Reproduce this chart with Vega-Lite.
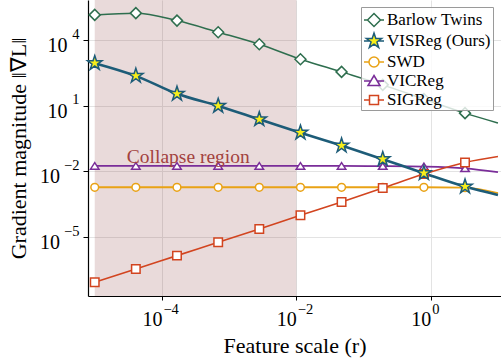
{
  "$schema": "https://vega.github.io/schema/vega-lite/v6.json",
  "width": 413,
  "height": 296,
  "autosize": "none",
  "padding": {"left": 88, "top": 0, "right": 0, "bottom": 66},
  "background": "white",
  "config": {
    "view": {"stroke": null},
    "font": "Liberation Serif",
    "axis": {
      "labelFont": "Liberation Serif",
      "titleFont": "Liberation Serif",
      "labelColor": "black",
      "titleColor": "black",
      "titleFontWeight": "normal",
      "domainColor": "black",
      "domainWidth": 1.2,
      "tickColor": "black",
      "tickWidth": 1,
      "gridColor": "#e3e3e3",
      "gridWidth": 1,
      "labelOverlap": false,
      "labelFlush": false
    }
  },
  "datasets": {
    "curves": [
      {"series": "Barlow Twins", "r": 1e-5, "g": 138000, "m": true},
      {"series": "Barlow Twins", "r": 4.09e-5, "g": 166000, "m": true},
      {"series": "Barlow Twins", "r": 1.675e-4, "g": 75900, "m": true},
      {"series": "Barlow Twins", "r": 6.87e-4, "g": 22400, "m": true},
      {"series": "Barlow Twins", "r": 2.81e-3, "g": 6310, "m": true},
      {"series": "Barlow Twins", "r": 1.151e-2, "g": 1318, "m": true},
      {"series": "Barlow Twins", "r": 4.71e-2, "g": 347, "m": true},
      {"series": "Barlow Twins", "r": 0.193, "g": 89, "m": true},
      {"series": "Barlow Twins", "r": 0.791, "g": 20, "m": true},
      {"series": "Barlow Twins", "r": 3.236, "g": 4.57, "m": true},
      {"series": "Barlow Twins", "r": 10, "g": 1.62, "m": false},
      {"series": "SWD", "r": 1e-5, "g": 0.0019, "m": true},
      {"series": "SWD", "r": 4.09e-5, "g": 0.0019, "m": true},
      {"series": "SWD", "r": 1.675e-4, "g": 0.0019, "m": true},
      {"series": "SWD", "r": 6.87e-4, "g": 0.0019, "m": true},
      {"series": "SWD", "r": 2.81e-3, "g": 0.0019, "m": true},
      {"series": "SWD", "r": 1.151e-2, "g": 0.0019, "m": true},
      {"series": "SWD", "r": 4.71e-2, "g": 0.0019, "m": true},
      {"series": "SWD", "r": 0.193, "g": 0.0019, "m": true},
      {"series": "SWD", "r": 0.791, "g": 0.0019, "m": true},
      {"series": "SWD", "r": 3.236, "g": 0.00182, "m": true},
      {"series": "SWD", "r": 10, "g": 0.00102, "m": false},
      {"series": "VICReg", "r": 1e-5, "g": 0.0178, "m": true},
      {"series": "VICReg", "r": 4.09e-5, "g": 0.0178, "m": true},
      {"series": "VICReg", "r": 1.675e-4, "g": 0.0178, "m": true},
      {"series": "VICReg", "r": 6.87e-4, "g": 0.0178, "m": true},
      {"series": "VICReg", "r": 2.81e-3, "g": 0.0178, "m": true},
      {"series": "VICReg", "r": 1.151e-2, "g": 0.0178, "m": true},
      {"series": "VICReg", "r": 4.71e-2, "g": 0.0178, "m": true},
      {"series": "VICReg", "r": 0.193, "g": 0.0175, "m": true},
      {"series": "VICReg", "r": 0.791, "g": 0.0166, "m": true},
      {"series": "VICReg", "r": 3.236, "g": 0.0138, "m": true},
      {"series": "VICReg", "r": 10, "g": 0.0093, "m": false},
      {"series": "SIGReg", "r": 1e-5, "g": 8.9e-8, "m": true},
      {"series": "SIGReg", "r": 4.09e-5, "g": 3.55e-7, "m": true},
      {"series": "SIGReg", "r": 1.675e-4, "g": 1.45e-6, "m": true},
      {"series": "SIGReg", "r": 6.87e-4, "g": 5.89e-6, "m": true},
      {"series": "SIGReg", "r": 2.81e-3, "g": 2.4e-5, "m": true},
      {"series": "SIGReg", "r": 1.151e-2, "g": 1.0e-4, "m": true},
      {"series": "SIGReg", "r": 4.71e-2, "g": 4.07e-4, "m": true},
      {"series": "SIGReg", "r": 0.193, "g": 1.74e-3, "m": true},
      {"series": "SIGReg", "r": 0.791, "g": 7.6e-3, "m": true},
      {"series": "SIGReg", "r": 3.236, "g": 0.0257, "m": true},
      {"series": "SIGReg", "r": 10, "g": 0.0479, "m": false},
      {"series": "VISReg (Ours)", "r": 1e-5, "g": 871, "m": true},
      {"series": "VISReg (Ours)", "r": 4.09e-5, "g": 229, "m": true},
      {"series": "VISReg (Ours)", "r": 1.675e-4, "g": 34.7, "m": true},
      {"series": "VISReg (Ours)", "r": 6.87e-4, "g": 9.77, "m": true},
      {"series": "VISReg (Ours)", "r": 2.81e-3, "g": 2.4, "m": true},
      {"series": "VISReg (Ours)", "r": 1.151e-2, "g": 0.589, "m": true},
      {"series": "VISReg (Ours)", "r": 4.71e-2, "g": 0.151, "m": true},
      {"series": "VISReg (Ours)", "r": 0.193, "g": 0.0363, "m": true},
      {"series": "VISReg (Ours)", "r": 0.791, "g": 0.00832, "m": true},
      {"series": "VISReg (Ours)", "r": 3.236, "g": 0.00204, "m": true},
      {"series": "VISReg (Ours)", "r": 10, "g": 0.000851, "m": false}
    ],
    "shade": [{"r1": 1e-5, "r2": 0.01}],
    "note": [{"r": 3.0e-5, "g": 0.0245, "label": "Collapse region"}]
  },
  "layer": [
    {
      "data": {"name": "shade"},
      "mark": {"type": "rect", "color": "#8b3a3a", "opacity": 0.19},
      "encoding": {
        "x": {"field": "r1", "type": "quantitative", "scale": {"type": "log", "domain": [7.94e-6, 11.1], "nice": false, "zero": false},
          "axis": {"values": [0.0001, 0.01, 1], "title": "Feature scale (r)", "grid": true, "tickSize": 4,
            "labelFontSize": 20, "labelAlign": "right", "labelBaseline": "alphabetic", "labelPadding": 25,
            "labelExpr": "'10'",
            "titleFontSize": 22, "titleY": 56, "titleBaseline": "alphabetic"}},
        "x2": {"field": "r2"}
      }
    },
    {
      "mark": {"type": "rule", "color": "#b0b0b0", "strokeDash": [1.5, 2.5], "strokeWidth": 1},
      "encoding": {"y": {"datum": 1, "type": "quantitative",
        "axis": {"orient": "right", "offset": -413, "values": [1e-5, 0.01], "title": null, "grid": false, "domain": false, "ticks": false, "tickSize": 0,
          "labelFontSize": 20, "labelAlign": "right", "labelBaseline": "alphabetic", "labelPadding": -28.5, "labelOffset": 11.5,
          "labelExpr": "'10'"}}}
    },
    {
      "data": {"name": "curves"},
      "mark": {"type": "line", "interpolate": "monotone"},
      "encoding": {
        "x": {"field": "r", "type": "quantitative", "scale": {"type": "log", "domain": [7.94e-6, 11.1], "nice": false, "zero": false}, "axis": null},
        "y": {"field": "g", "type": "quantitative", "scale": {"type": "log", "domain": [2.09e-8, 660000], "nice": false, "zero": false},
          "axis": {"values": [1e-5, 0.01, 10, 10000], "title": "Gradient magnitude ‖∇L‖", "grid": true, "tickSize": 5,
            "labelFontSize": 20, "labelAlign": "right", "labelBaseline": "alphabetic", "labelOffset": 11.5, "labelPadding": 16,
            "labelExpr": "datum.value > 1 ? '10' : ''",
            "titleFontSize": 22, "titleX": -70, "titleY": 148, "titleBaseline": "middle", "titleAlign": "center", "titleAngle": -90}},
        "stroke": {"field": "series", "type": "nominal", "legend": null,
          "scale": {"domain": ["Barlow Twins", "VISReg (Ours)", "SWD", "VICReg", "SIGReg"], "range": ["#2e6e4e", "#1d5c78", "#e9a215", "#7a2d99", "#d2441f"]}},
        "strokeWidth": {"field": "series", "type": "nominal", "legend": null,
          "scale": {"type": "ordinal", "domain": ["Barlow Twins", "VISReg (Ours)", "SWD", "VICReg", "SIGReg"], "range": [1.5, 2.6, 1.8, 1.8, 1.6]}},
        "order": {"field": "series"}
      }
    },
    {
      "data": {"name": "curves"},
      "transform": [{"filter": "datum.m"}],
      "mark": {"type": "point", "opacity": 1, "strokeWidth": 1.5},
      "encoding": {
        "x": {"field": "r", "type": "quantitative", "scale": {"type": "log", "domain": [7.94e-6, 11.1], "nice": false, "zero": false}, "axis": null},
        "y": {"field": "g", "type": "quantitative", "scale": {"type": "log", "domain": [2.09e-8, 660000], "nice": false, "zero": false}, "axis": null},
        "stroke": {"field": "series", "type": "nominal", "legend": null,
          "scale": {"domain": ["Barlow Twins", "VISReg (Ours)", "SWD", "VICReg", "SIGReg"], "range": ["#2e6e4e", "#1d5c78", "#e9a215", "#7a2d99", "#d2441f"]}},
        "fill": {"field": "series", "type": "nominal", "legend": null,
          "scale": {"domain": ["Barlow Twins", "VISReg (Ours)", "SWD", "VICReg", "SIGReg"], "range": ["#ffffff", "#f7ee1a", "#ffffff", "#ffffff", "#ffffff"]}},
        "shape": {"field": "series", "type": "nominal", "legend": null,
          "scale": {"domain": ["Barlow Twins", "VISReg (Ours)", "SWD", "VICReg", "SIGReg"],
            "range": ["M-1,0L0,-1L1,0L0,1Z", "M0,-1L0.2245,-0.309L0.951,-0.309L0.363,0.118L0.588,0.809L0,0.382L-0.588,0.809L-0.363,0.118L-0.951,-0.309L-0.2245,-0.309Z", "circle", "M0,-0.8L1,0.75L-1,0.75Z", "square"]}},
        "size": {"field": "series", "type": "nominal", "legend": null,
          "scale": {"type": "ordinal", "domain": ["Barlow Twins", "VISReg (Ours)", "SWD", "VICReg", "SIGReg"], "range": [120, 230, 60, 72, 72]}}
      }
    },
    {
      "data": {"name": "note"},
      "mark": {"type": "text", "align": "left", "baseline": "alphabetic", "fontSize": 19.5, "font": "Liberation Serif", "color": "#a3423f"},
      "encoding": {
        "x": {"field": "r", "type": "quantitative", "scale": {"type": "log", "domain": [7.94e-6, 11.1], "nice": false, "zero": false},
          "axis": {"orient": "top", "offset": -296, "values": [0.0001, 0.01, 1], "title": null, "grid": false, "domain": false, "ticks": false, "tickSize": 0,
            "labelFontSize": 14.5, "labelAlign": "left", "labelBaseline": "alphabetic", "labelPadding": -17, "labelOffset": 1,
            "labelExpr": "datum.value < 0.001 ? '−4' : datum.value < 0.5 ? '−2' : '0'"}},
        "y": {"field": "g", "type": "quantitative", "scale": {"type": "log", "domain": [2.09e-8, 660000], "nice": false, "zero": false},
          "axis": {"orient": "right", "offset": -413, "values": [1e-5, 0.01, 10, 10000], "title": null, "grid": false, "domain": false, "ticks": false, "tickSize": 0,
            "labelFontSize": 14.5, "labelAlign": "right", "labelBaseline": "alphabetic", "labelPadding": -9, "labelOffset": -1.7,
            "labelExpr": "datum.value > 100 ? '4' : datum.value > 1 ? '1' : datum.value > 0.0001 ? '−2' : '−5'"}},
        "text": {"field": "label"}
      }
    },
    {
      "data": {"name": "curves"},
      "transform": [{"filter": "false"}],
      "mark": {"type": "point", "opacity": 1, "strokeWidth": 1.5, "size": 400},
      "encoding": {
        "x": {"field": "r", "type": "quantitative", "scale": {"type": "log", "domain": [7.94e-6, 11.1], "nice": false, "zero": false}, "axis": null},
        "y": {"field": "g", "type": "quantitative", "scale": {"type": "log", "domain": [2.09e-8, 660000], "nice": false, "zero": false}, "axis": null},
        "stroke": {"field": "series", "type": "nominal",
          "scale": {"domain": ["Barlow Twins", "VISReg (Ours)", "SWD", "VICReg", "SIGReg"], "range": ["#2e6e4e", "#1d5c78", "#e9a215", "#7a2d99", "#d2441f"]},
          "legend": {"orient": "none", "legendX": 273, "legendY": 7, "title": null, "fillColor": "rgba(255,255,255,0.8)", "strokeColor": "#9a9a9a", "padding": 2, "cornerRadius": 0, "labelFontSize": 17, "labelFont": "Liberation Serif", "labelColor": "black", "symbolSize": 400, "symbolStrokeWidth": 1.5, "labelOffset": 2, "rowPadding": 0, "symbolOpacity": 1}},
        "fill": {"field": "series", "type": "nominal",
          "scale": {"domain": ["Barlow Twins", "VISReg (Ours)", "SWD", "VICReg", "SIGReg"], "range": ["#ffffff", "#f7ee1a", "#ffffff", "#ffffff", "#ffffff"]},
          "legend": {"orient": "none", "legendX": 273, "legendY": 7, "title": null, "fillColor": "rgba(255,255,255,0.8)", "strokeColor": "#9a9a9a", "padding": 2, "cornerRadius": 0, "labelFontSize": 17, "labelFont": "Liberation Serif", "labelColor": "black", "symbolSize": 400, "symbolStrokeWidth": 1.5, "labelOffset": 2, "rowPadding": 0, "symbolOpacity": 1}},
        "shape": {"field": "series", "type": "nominal",
          "scale": {"domain": ["Barlow Twins", "VISReg (Ours)", "SWD", "VICReg", "SIGReg"],
            "range": [
              "M-1,0H-0.65M0.65,0H1M-0.65,0L0,-0.65L0.65,0L0,0.65Z",
              "M-1,0H-0.43M0.43,0H1M0,-0.8L0.183,-0.251L0.761,-0.247L0.295,0.096L0.47,0.647L0,0.31L-0.47,0.647L-0.295,0.096L-0.761,-0.247L-0.183,-0.251Z",
              "M-1,0H-0.5M0.5,0H1M0.5,0A0.5,0.5,0,1,1,-0.5,0A0.5,0.5,0,1,1,0.5,0Z",
              "M-1,0H-0.36M0.36,0H1M0,-0.55L0.6,0.45L-0.6,0.45Z",
              "M-1,0H-0.45M0.45,0H1M-0.45,-0.45H0.45V0.45H-0.45Z"
            ]},
          "legend": {"orient": "none", "legendX": 273, "legendY": 7, "title": null, "fillColor": "rgba(255,255,255,0.8)", "strokeColor": "#9a9a9a", "padding": 2, "cornerRadius": 0, "labelFontSize": 17, "labelFont": "Liberation Serif", "labelColor": "black", "symbolSize": 400, "symbolStrokeWidth": 1.5, "labelOffset": 2, "rowPadding": 0, "symbolOpacity": 1}}
      }
    }
  ],
  "resolve": {
    "scale": {"shape": "independent", "stroke": "independent", "fill": "independent", "size": "independent", "strokeWidth": "independent"},
    "axis": {"x": "independent", "y": "independent"}
  }
}
